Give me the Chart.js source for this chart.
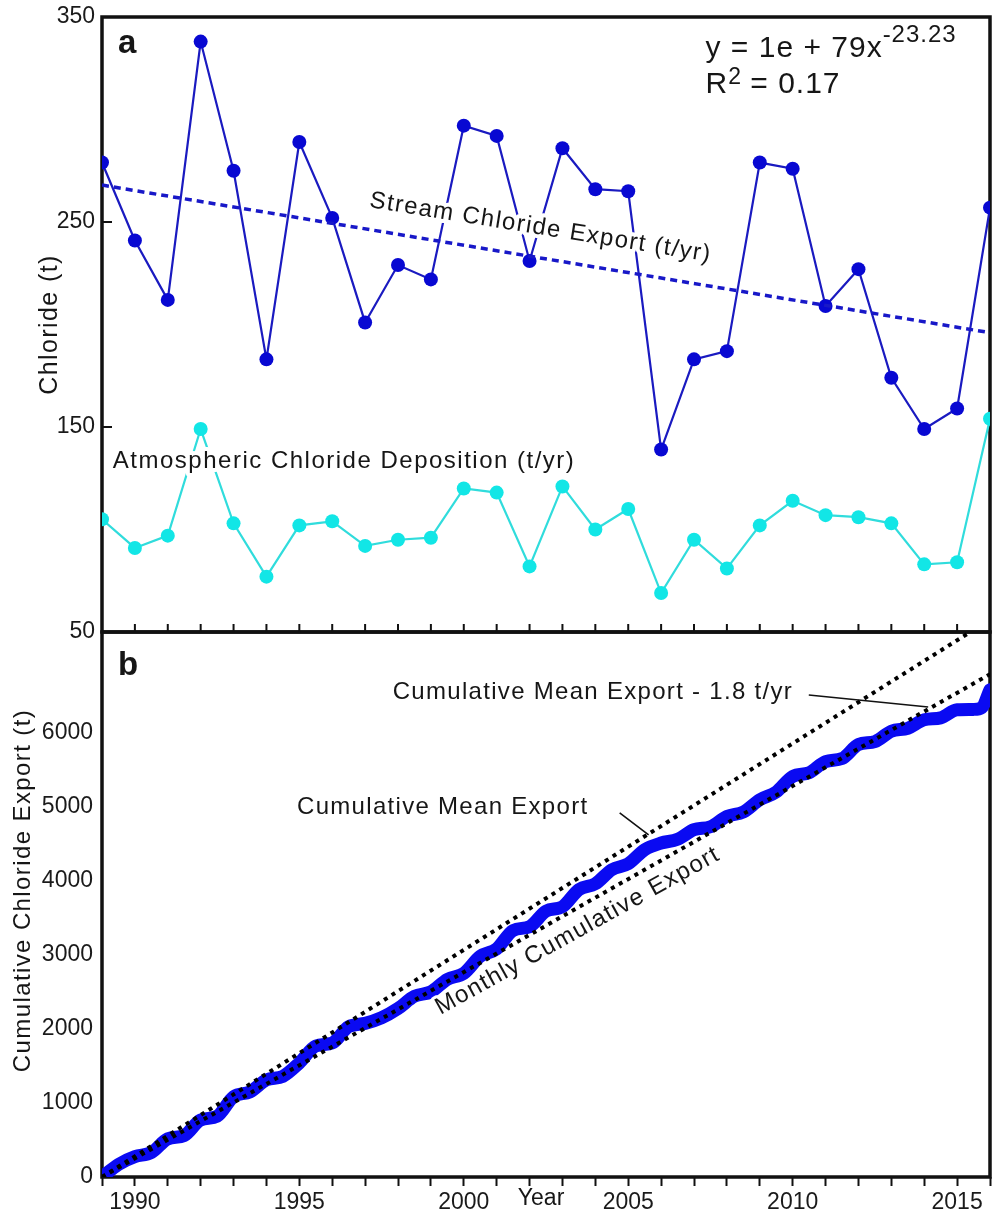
<!DOCTYPE html>
<html>
<head>
<meta charset="utf-8">
<script src="https://cdn.jsdelivr.net/npm/chart.js@4.4.0/dist/chart.umd.min.js"></script>
<style>
  html, body { margin: 0; padding: 0; background: #fff; }
</style>
</head>
<body>
<canvas id="myChart" width="997" height="1214"></canvas>
<script>
// panel a - annual chloride (t/yr)
var years = [1989, 1990, 1991, 1992, 1993, 1994, 1995, 1996, 1997, 1998, 1999, 2000, 2001, 2002,
             2003, 2004, 2005, 2006, 2007, 2008, 2009, 2010, 2011, 2012, 2013, 2014, 2015, 2016];
var streamExport = [279, 241, 212, 338, 275, 183, 289, 252, 201, 229, 222, 297, 292, 231,
                    286, 266, 265, 139, 183, 187, 279, 276, 209, 227, 174, 149, 159, 257];
var atmDeposition = [105, 91, 97, 149, 103, 77, 102, 104, 92, 95, 96, 120, 118, 82,
                     121, 100, 110, 69, 95, 81, 102, 114, 107, 106, 103, 83, 84, 154];
var trendYears = [1989, 2016];
var trendValues = [268, 196];
var chlorideTicks = [50, 150, 250, 350];

// panel b - cumulative export (t)
var cumYears = [1989, 1989.5, 1990, 1990.5, 1991, 1991.5, 1992, 1992.5, 1993, 1993.5, 1994, 1994.5,
                1995, 1995.5, 1996, 1996.5, 1997, 1997.5, 1998, 1998.5, 1999, 1999.5, 2000, 2000.5,
                2001, 2001.5, 2002, 2002.5, 2003, 2003.5, 2004, 2004.5, 2005, 2005.5, 2006, 2006.5,
                2007, 2007.5, 2008, 2008.5, 2009, 2009.5, 2010, 2010.5, 2011, 2011.5, 2012, 2012.5,
                2013, 2013.5, 2014, 2014.5, 2015, 2015.5, 2015.75, 2016];
var cumulativeExport = [0, 170, 275, 330, 515, 560, 770, 820, 1085, 1150, 1311, 1360,
                        1540, 1770, 1810, 2030, 2075, 2150, 2275, 2440, 2500, 2670, 2750, 2980,
                        3080, 3330, 3380, 3590, 3650, 3880, 3960, 4150, 4230, 4420, 4510, 4560,
                        4690, 4730, 4870, 4930, 5095, 5200, 5410, 5460, 5610, 5650, 5840, 5880,
                        6020, 6060, 6175, 6200, 6310, 6315, 6340, 6580];
var meanYears = [1989, 2015.4];
var meanExport = [0, 7360];
var meanLessYears = [1989, 2016];
var meanLessExport = [0, 6790];
var cumTicks = [0, 1000, 2000, 3000, 4000, 5000, 6000];

var xTickLabels = [1990, 1995, 2000, 2005, 2010, 2015];

var FONT = '"Liberation Sans", Arial, sans-serif';

function pts(xs, ys) {
    return xs.map(function (x, i) { return { x: x, y: ys[i] }; });
}

function label(ctx, s, px, py, size, opt) {
    opt = opt || {};
    ctx.save();
    ctx.translate(px, py);
    if (opt.angle) ctx.rotate(opt.angle * Math.PI / 180);
    ctx.font = (opt.bold ? 'bold ' : '') + size + 'px ' + FONT;
    ctx.letterSpacing = (opt.spacing || 0) + 'px';
    ctx.textAlign = opt.align || 'left';
    ctx.textBaseline = opt.baseline || 'alphabetic';
    if (opt.halo) {
        ctx.strokeStyle = '#fff';
        ctx.lineWidth = opt.halo;
        ctx.lineJoin = 'round';
        ctx.strokeText(s, 0, 0);
    }
    ctx.fillStyle = '#161616';
    ctx.fillText(s, 0, 0);
    var w = ctx.measureText(s).width;
    ctx.restore();
    return w;
}

function fitLeft(s) {
    s.width = 102;
    s.paddingTop = 0;
    s.paddingBottom = 0;
}

var panelDecor = {
    id: 'panelDecor',
    beforeDatasetsDraw: function (chart) {
        var ctx = chart.ctx;
        var x = chart.scales.x, ya = chart.scales.yA, yb = chart.scales.yB;
        ctx.save();
        ctx.strokeStyle = '#111';
        // frames
        ctx.lineWidth = 3.5;
        ctx.strokeRect(x.left, ya.top, x.right - x.left, ya.bottom - ya.top);
        ctx.strokeRect(x.left, yb.top, x.right - x.left, yb.bottom - yb.top);
        // inward ticks of panel a
        ctx.lineWidth = 2;
        ctx.beginPath();
        ya.ticks.forEach(function (t) {
            var p = ya.getPixelForValue(t.value);
            ctx.moveTo(x.left, p); ctx.lineTo(x.left + 10, p);
        });
        x.ticks.forEach(function (t) {
            var p = x.getPixelForValue(t.value);
            ctx.moveTo(p, ya.bottom); ctx.lineTo(p, ya.bottom - 8);
        });
        ctx.stroke();
        ctx.restore();
    },
    afterDatasetsDraw: function (chart) {
        var ctx = chart.ctx;
        var x = chart.scales.x, ya = chart.scales.yA, yb = chart.scales.yB;
        var X = function (v) { return x.getPixelForValue(v); };
        var A = function (v) { return ya.getPixelForValue(v); };
        var B = function (v) { return yb.getPixelForValue(v); };

        // text labels (white halo breaks the lines like the original)
        label(ctx, 'Stream Chloride Export (t/yr)', X(1997.11), A(257.3), 24, { angle: 9.1, spacing: 1.4, halo: 8 });
        label(ctx, 'Atmospheric Chloride Deposition (t/yr)', X(1989.33), A(130), 24, { spacing: 1.5, halo: 8 });

        var w = label(ctx, 'y = 1e + 79x', X(2007.35), A(330.5), 30, { spacing: 1 });
        label(ctx, '-23.23', X(2007.35) + w, A(338), 24, { spacing: 1 });
        w = label(ctx, 'R', X(2007.35), A(313), 30, { spacing: 1 });
        var w2 = label(ctx, '2', X(2007.35) + w, A(317.5), 23, {});
        label(ctx, ' = 0.17', X(2007.35) + w + w2, A(313), 30, { spacing: 1 });

        label(ctx, 'a', x.left + 16, A(332.4), 33, { bold: true });
        label(ctx, 'b', x.left + 16, B(6779), 33, { bold: true });

        label(ctx, 'Cumulative Mean Export - 1.8 t/yr', X(1997.84), B(6550), 24, { spacing: 1.3, baseline: 'middle' });
        label(ctx, 'Cumulative Mean Export', X(1994.93), B(4997), 24, { spacing: 1.3, baseline: 'middle' });
        label(ctx, 'Monthly Cumulative Export', X(1999.29), B(2188), 24, { angle: -29.1, spacing: 1.4, halo: 6 });

        ctx.save();
        ctx.strokeStyle = '#111';
        ctx.lineWidth = 1.6;
        ctx.beginPath();
        ctx.moveTo(X(2010.49), B(6509)); ctx.lineTo(X(2014.12), B(6347));
        ctx.moveTo(X(2004.74), B(4916)); ctx.lineTo(X(2005.62), B(4619));
        ctx.stroke();
        ctx.restore();

        // axis titles
        label(ctx, 'Chloride (t)', 50, (ya.top + ya.bottom) / 2, 25, { angle: -90, align: 'center', baseline: 'middle', spacing: 1.4 });
        label(ctx, 'Cumulative Chloride Export (t)', 23, (yb.top + yb.bottom) / 2 - 14, 24, { angle: -90, align: 'center', baseline: 'middle', spacing: 1.4 });
        label(ctx, 'Year', X(2002.35), x.top + 22, 23, { align: 'center', baseline: 'middle' });
    }
};

var ctx = document.getElementById('myChart');

var myChart = new Chart(ctx, {
    type: 'line',
    data: {
        datasets: [
            {
                label: 'Stream chloride trend',
                data: pts(trendYears, trendValues),
                yAxisID: 'yA',
                borderColor: '#1818c8',
                borderWidth: 3.5,
                borderDash: [7, 5],
                pointRadius: 0
            },
            {
                label: 'Stream Chloride Export (t/yr)',
                data: pts(years, streamExport),
                yAxisID: 'yA',
                borderColor: '#1a1ac0',
                backgroundColor: '#0808d2',
                borderWidth: 2.2,
                pointRadius: 7,
                pointBorderWidth: 0,
                pointBackgroundColor: '#0808d2'
            },
            {
                label: 'Atmospheric Chloride Deposition (t/yr)',
                data: pts(years, atmDeposition),
                yAxisID: 'yA',
                borderColor: '#30dcdc',
                backgroundColor: '#12e6e6',
                borderWidth: 2.2,
                pointRadius: 7,
                pointBorderWidth: 0,
                pointBackgroundColor: '#12e6e6'
            },
            {
                label: 'Cumulative Mean Export',
                data: pts(meanYears, meanExport),
                yAxisID: 'yB',
                borderColor: '#000',
                borderWidth: 4,
                borderDash: [4, 5],
                pointRadius: 0
            },
            {
                label: 'Cumulative Mean Export - 1.8 t/yr',
                data: pts(meanLessYears, meanLessExport),
                yAxisID: 'yB',
                borderColor: '#000',
                borderWidth: 4,
                borderDash: [4, 5],
                pointRadius: 0
            },
            {
                label: 'Monthly Cumulative Export',
                data: pts(cumYears, cumulativeExport),
                yAxisID: 'yB',
                borderColor: '#0a0af2',
                borderWidth: 13,
                borderCapStyle: 'round',
                borderJoinStyle: 'round',
                cubicInterpolationMode: 'monotone',
                pointRadius: 0
            }
        ]
    },
    options: {
        responsive: false,
        animation: false,
        layout: { padding: { top: 17, right: 3, left: 0, bottom: 0 } },
        plugins: {
            legend: { display: false },
            tooltip: { enabled: false }
        },
        scales: {
            x: {
                type: 'linear',
                min: 1989,
                max: 2016,
                afterFit: function (s) { s.height = 37; },
                border: { display: false },
                grid: { drawOnChartArea: false, tickLength: 9, tickWidth: 2, tickColor: '#111' },
                ticks: {
                    stepSize: 1,
                    autoSkip: false,
                    maxRotation: 0,
                    padding: 3,
                    color: '#1a1a1a',
                    font: { family: FONT, size: 23 },
                    callback: function (v) { return xTickLabels.indexOf(v) >= 0 ? String(v) : ''; }
                }
            },
            yB: {
                type: 'linear',
                position: 'left',
                stack: 'panels',
                stackWeight: 545,
                min: 0,
                max: 7360,
                afterBuildTicks: function (s) {
                    s.ticks = cumTicks.map(function (v) { return { value: v }; });
                },
                afterFit: fitLeft,
                border: { display: false },
                grid: { display: false, drawTicks: false },
                ticks: {
                    autoSkip: false,
                    padding: 9,
                    color: '#1a1a1a',
                    font: { family: FONT, size: 23 },
                    callback: function (v) { return String(v); }
                }
            },
            yA: {
                type: 'linear',
                position: 'left',
                stack: 'panels',
                stackWeight: 615,
                min: 50,
                max: 350,
                afterBuildTicks: function (s) {
                    s.ticks = chlorideTicks.map(function (v) { return { value: v }; });
                },
                afterFit: fitLeft,
                border: { display: false },
                grid: { display: false, drawTicks: false },
                ticks: {
                    autoSkip: false,
                    padding: 7,
                    color: '#1a1a1a',
                    font: { family: FONT, size: 23 },
                    callback: function (v) { return String(v); }
                }
            }
        }
    },
    plugins: [panelDecor]
});
</script>
</body>
</html>
